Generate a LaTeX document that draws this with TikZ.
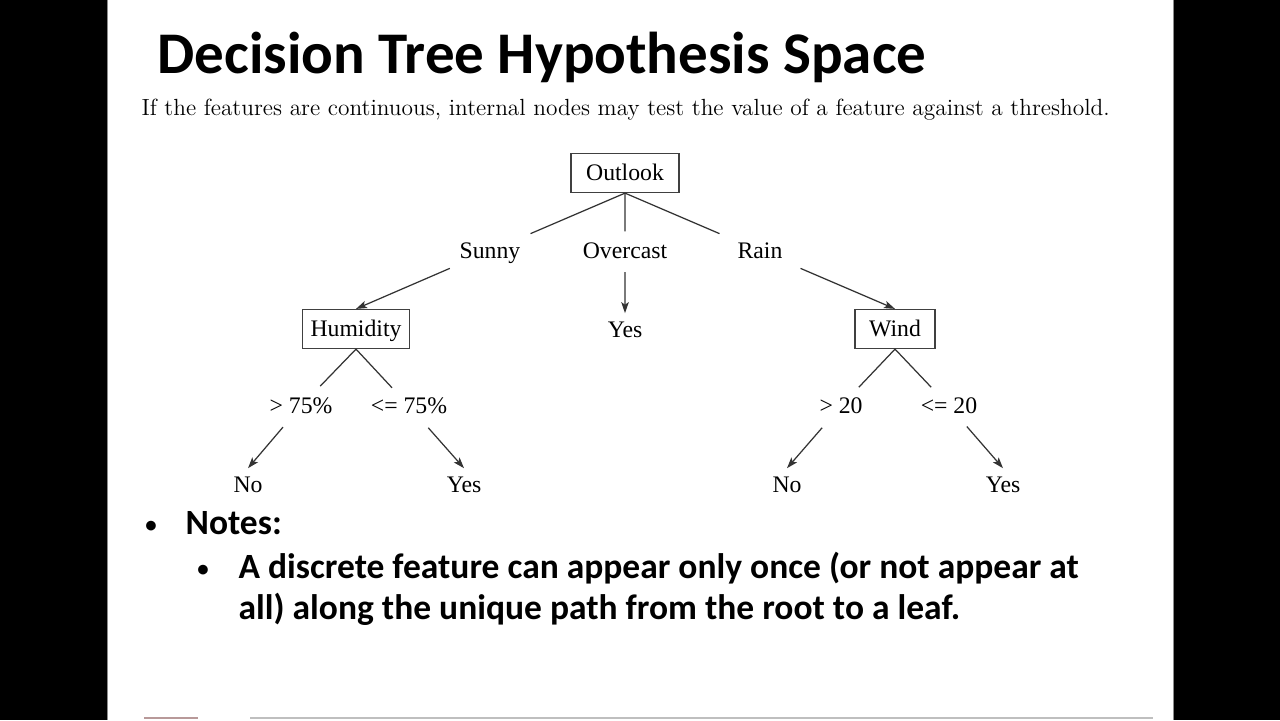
\documentclass[tikz,border=0pt]{standalone}
\usepackage{fontspec}
\usetikzlibrary{arrows.meta,calc}
\newfontfamily\slidefont{Carlito}
\newfontfamily\treefont{Liberation Serif}
\begin{document}
\begin{tikzpicture}[x=0.02cm,y=-0.02cm,
  line width=0.7pt,
  treetext/.style={font=\treefont\fontsize{13.5}{16}\selectfont, text height=0.9em, text depth=0em, inner sep=0pt},
  testbox/.style={treetext, draw=black!75, minimum height=0.78cm},
  leaf/.style={treetext, inner ysep=0.166cm},
  branch/.style={draw=black!80},
  arrow/.style={draw=black!80, -{Stealth[length=2.2mm,width=1.5mm,inset=0.5mm]}},
  notetext/.style={anchor=base west, inner sep=0pt, font=\slidefont\bfseries\fontsize{20.2}{24}\selectfont},
  notedot/.style={anchor=base, inner sep=0pt, font=\slidefont\bfseries\fontsize{13}{15}\selectfont}]
\useasboundingbox (0,0) rectangle (1280,720);

% Fondo
\fill[black] (0,0) rectangle (1280,720);
\fill[white] (107,0) rectangle (1173,720);
\draw[black!45, line width=0.4pt] (107,0) -- (107,720);
\draw[black!45, line width=0.4pt] (1173,0) -- (1173,720);
\draw[black!25, line width=0.8pt] (250,718) -- (1153,718);
\draw[red!30!black!40, line width=0.8pt] (144,718) -- (198,718);

% Titulo
\node[anchor=base west, inner sep=0pt, font=\slidefont\bfseries\fontsize{33.6}{40}\selectfont] (title) at (157,73) {Decision Tree Hypothesis Space};
\node[anchor=base west, inner sep=0pt, font=\fontsize{13.3}{16}\selectfont] (intro) at (141,115) {If the features are continuous, internal nodes may test the value of a feature against a threshold.};

% Arbol
\node[testbox, minimum width=2.16cm] (outlook) at (625,173) {Outlook};
\node[treetext] (sunny) at (490,251) {Sunny};
\node[treetext] (overcast) at (625,251) {Overcast};
\node[treetext] (rain) at (760,251) {Rain};
\node[testbox, minimum width=2.14cm] (humidity) at (356,329) {Humidity};
\node[leaf] (yesO) at (625,330) {Yes};
\node[testbox, minimum width=1.6cm] (wind) at (895,329) {Wind};
\node[treetext] (hihum) at (301,406) {> 75\%};
\node[treetext] (lohum) at (409,406) {<= 75\%};
\node[treetext] (hiwind) at (841,406) {> 20};
\node[treetext] (lowind) at (949,406) {<= 20};
\node[leaf] (noH) at (248,485) {No};
\node[leaf] (yesH) at (464,485) {Yes};
\node[leaf] (noW) at (787,485) {No};
\node[leaf] (yesW) at (1003,485) {Yes};

% Ramas
\draw[branch] (outlook.south) -- ($(outlook.south)!0.70!(sunny)$);
\draw[branch] (outlook.south) -- ($(outlook.south)!0.66!(overcast)$);
\draw[branch] (outlook.south) -- ($(outlook.south)!0.70!(rain)$);
\draw[arrow] ($(sunny)!0.30!(humidity.north)$) -- (humidity.north);
\draw[arrow] ($(overcast)!0.34!(yesO.north)$) -- (yesO.north);
\draw[arrow] ($(rain)!0.30!(wind.north)$) -- (wind.north);

\draw[branch] (humidity.south) -- ($(humidity.south)!0.65!(hihum)$);
\draw[branch] (humidity.south) -- ($(humidity.south)!0.68!(lohum)$);
\draw[arrow] ($(hihum)!0.34!(noH.north)$) -- (noH.north);
\draw[arrow] ($(lohum)!0.35!(yesH.north)$) -- (yesH.north);

\draw[branch] (wind.south) -- ($(wind.south)!0.67!(hiwind)$);
\draw[branch] (wind.south) -- ($(wind.south)!0.67!(lowind)$);
\draw[arrow] ($(hiwind)!0.35!(noW.north)$) -- (noW.north);
\draw[arrow] ($(lowind)!0.33!(yesW.north)$) -- (yesW.north);

% Notas
\node[notedot] (dot1) at (151,532) {•};
\node[notetext] (notes) at (185,534) {Notes:};
\node[notedot] (dot2) at (203,576) {•};
\node[notetext] (line1) at (238,578) {A discrete feature can appear only once (or not appear at};
\node[notetext] (line2) at (238,619) {all) along the unique path from the root to a leaf.};
\end{tikzpicture}
\end{document}
